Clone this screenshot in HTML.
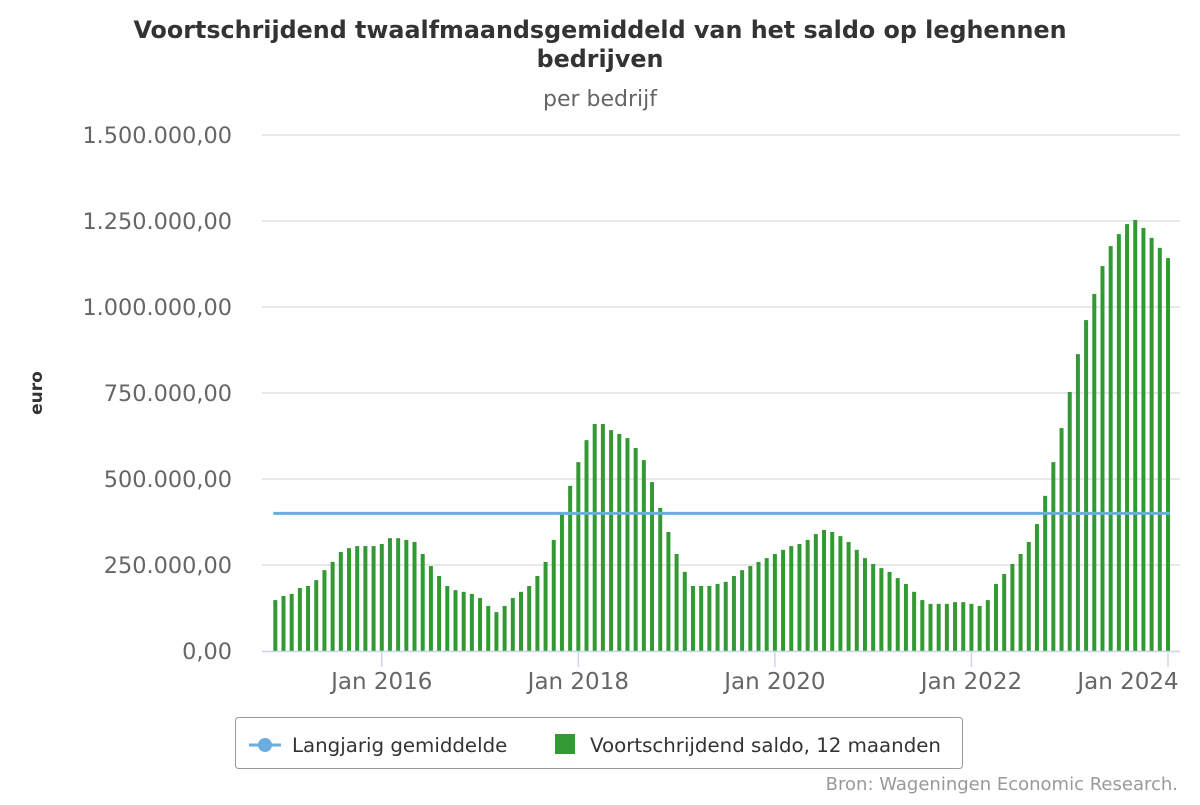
<!DOCTYPE html>
<html><head><meta charset="utf-8"><style>
body{margin:0;background:#fff;font-family:"Liberation Sans","DejaVu Sans",sans-serif}
svg text{font-family:"DejaVu Sans","Liberation Sans",sans-serif}
</style></head><body>
<svg id="c" width="1200" height="800">
<text x="600" y="38" text-anchor="middle" font-size="23.8" font-weight="bold" fill="#333">Voortschrijdend twaalfmaandsgemiddeld van het saldo op leghennen</text>
<text x="600" y="67" text-anchor="middle" font-size="23.8" font-weight="bold" fill="#333">bedrijven</text>
<text x="600" y="106" text-anchor="middle" font-size="22" fill="#666">per bedrijf</text>
<text transform="translate(42,393) rotate(-90)" text-anchor="middle" font-size="17" font-weight="bold" fill="#333">euro</text>
<g id="grid"></g><g id="bars"></g><g id="line"></g><g id="axes"></g>
<g>
<rect x="235.5" y="717.5" width="727" height="51" rx="3" fill="#fff" stroke="#999"/>
<g>
<line x1="249" y1="745" x2="281" y2="745" stroke="#6aaee0" stroke-width="3"/>
<circle cx="265" cy="745" r="7" fill="#6aaee0"/>
<text x="292" y="752" font-size="19.8" fill="#333">Langjarig gemiddelde</text></g>
<g>
<rect x="555" y="734" width="20" height="20" fill="#339933"/>
<text x="590" y="752" font-size="19.8" fill="#333">Voortschrijdend saldo, 12 maanden</text></g>
</g>
<text x="1178" y="790" text-anchor="end" font-size="18" fill="#999">Bron: Wageningen Economic Research.</text>
</svg>
<script>
const values=[148,160,166,183,189,206,235,259,288,299,305,305,305,311,328,328,323,317,282,247,218,189,177,172,166,154,131,113,131,154,172,189,218,259,323,404,
480,549,613,660,660,642,631,619,590,555,491,416,346,282,230,189,189,189,195,201,218,235,247,259,270,282,294,305,311,323,340,352,346,334,317,294,270,253,241,230,
212,195,172,148,137,137,137,142,142,137,131,148,195,224,253,282,317,369,451,549,648,753,863,962,1038,1119,1177,1212,1241,1253,1230,1201,1172,1142];
const yTicks=[0,250,500,750,1000,1250,1500];
const yTickLabels=["0,00","250.000,00","500.000,00","750.000,00","1.000.000,00","1.250.000,00","1.500.000,00"];
const xTickIdx=[13,37,61,85,109];
const xTickLabels=["Jan 2016","Jan 2018","Jan 2020","Jan 2022","Jan 2024"];
const average=400;
const NS="http://www.w3.org/2000/svg";
const y=v=>651-v/1500*516;
const x=i=>275.3+i*(1168-275.3)/(values.length-1);
function mk(t,a,p){const e=document.createElementNS(NS,t);for(const k in a)e.setAttribute(k,a[k]);p.appendChild(e);return e;}
const G=document.getElementById('grid'),B=document.getElementById('bars'),L=document.getElementById('line'),A=document.getElementById('axes');
yTicks.forEach((v,i)=>{
 if(i>0){const g=mk('line',{x1:262,x2:1180,y1:y(v),y2:y(v),stroke:'#e0e0e0','stroke-width':1.5},G);
 
 }
 const t=mk('text',{x:232,y:y(v)+8,'text-anchor':'end','font-size':22.4,fill:'#666'},A);t.textContent=yTickLabels[i];
 
 
});
values.forEach((v,i)=>{
 const r=mk('rect',{x:x(i)-2,y:y(v),width:4,height:651-y(v),fill:'#339933'},B);
 
 
});
const al=mk('line',{x1:x(0)-2,x2:x(values.length-1)+2,y1:y(average),y2:y(average),stroke:'#6aaee0','stroke-width':3},L);


const ax=mk('line',{x1:262,x2:1180,y1:651.5,y2:651.5,stroke:'#ccd6eb','stroke-width':1.5},A);


xTickIdx.forEach((ix,i)=>{
 const tk=mk('line',{x1:x(ix),x2:x(ix),y1:651,y2:667,stroke:'#ccd6eb','stroke-width':1.5},A);
 
 
 const t=mk('text',{x:Math.min(x(ix),1128),y:689,'text-anchor':'middle','font-size':23,fill:'#666'},A);t.textContent=xTickLabels[i];
 
 
});
</script>
</body></html>
